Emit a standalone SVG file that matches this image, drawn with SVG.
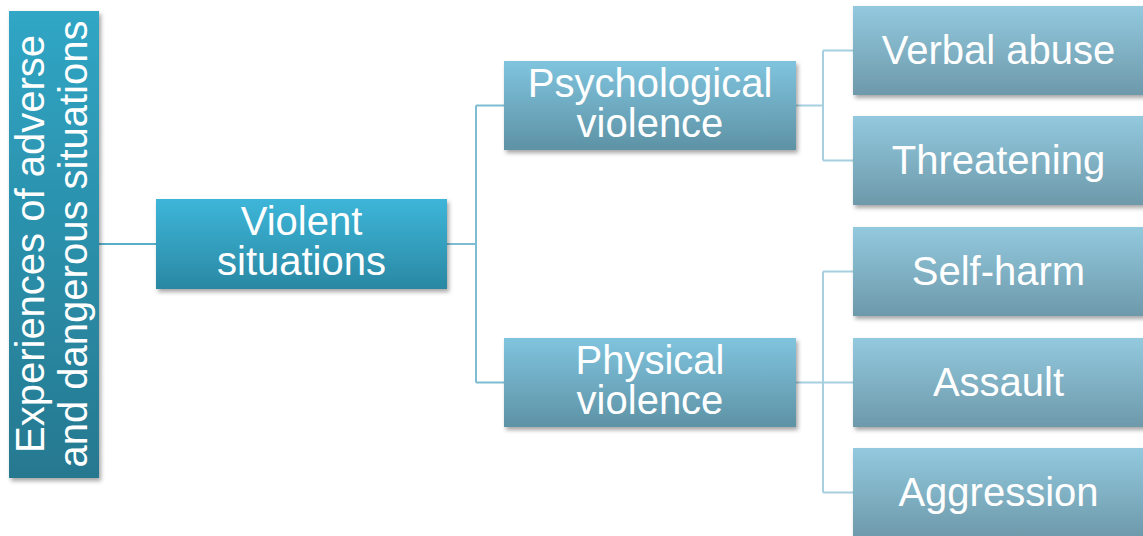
<svg xmlns="http://www.w3.org/2000/svg" width="1143" height="536" viewBox="0 0 1143 536">
  <defs>
    <linearGradient id="gRoot" x1="0" y1="0" x2="0" y2="1">
      <stop offset="0" stop-color="#30a6c5"/>
      <stop offset="1" stop-color="#26788f"/>
    </linearGradient>
    <linearGradient id="gL1" x1="0" y1="0" x2="0" y2="1">
      <stop offset="0" stop-color="#3db6d9"/>
      <stop offset="1" stop-color="#2a88a3"/>
    </linearGradient>
    <linearGradient id="gL2" x1="0" y1="0" x2="0" y2="1">
      <stop offset="0" stop-color="#7fc4de"/>
      <stop offset="1" stop-color="#5e92a5"/>
    </linearGradient>
    <linearGradient id="gL3" x1="0" y1="0" x2="0" y2="1">
      <stop offset="0" stop-color="#93c9de"/>
      <stop offset="1" stop-color="#6d99aa"/>
    </linearGradient>
    <filter id="shadow" x="-10%" y="-10%" width="125%" height="130%">
      <feDropShadow dx="2" dy="3" stdDeviation="2" flood-color="#000" flood-opacity="0.35"/>
    </filter>
  </defs>
  <style>
    .box { filter: url(#shadow); }
    .lbl { font-family: "Liberation Sans", Arial, sans-serif; font-size: 40px; fill: #ffffff; text-anchor: middle; }
    .c0 { stroke: #58aec7; stroke-width: 2; fill: none; }
    .c1 { stroke: #7dbdd3; stroke-width: 2; fill: none; }
    .c2 { stroke: #a6d0e0; stroke-width: 2; fill: none; }
  </style>

  <rect width="1143" height="536" fill="#ffffff"/>

  <!-- connectors -->
  <g id="connectors">
    <path class="c0" d="M99 244 H156"/>
    <path class="c1" d="M447 244 H476 M476 105.5 V382.5 M476 105.5 H504 M476 382.5 H504"/>
    <path class="c2" d="M796 105.5 H823 M823 50.5 V160.5 M823 50.5 H853 M823 160.5 H853"/>
    <path class="c2" d="M796 382.5 H823 M823 271.5 V492.5 M823 271.5 H853 M823 382.5 H853 M823 492.5 H853"/>
  </g>

  <!-- root -->
  <g id="root">
    <rect class="box" x="9" y="11" width="90" height="467" fill="url(#gRoot)"/>
    <text class="lbl" transform="translate(44 244) rotate(-90)" x="0" y="0">Experiences of adverse</text>
    <text class="lbl" transform="translate(87 244) rotate(-90)" x="0" y="0">and dangerous situations</text>
  </g>

  <!-- level 1 -->
  <g id="violent">
    <rect class="box" x="156" y="199" width="291" height="90" fill="url(#gL1)"/>
    <text class="lbl" x="301.5" y="235">Violent</text>
    <text class="lbl" x="301.5" y="275">situations</text>
  </g>

  <!-- level 2 -->
  <g id="psychological">
    <rect class="box" x="504" y="61" width="292" height="89" fill="url(#gL2)"/>
    <text class="lbl" x="650" y="97">Psychological</text>
    <text class="lbl" x="650" y="137">violence</text>
  </g>
  <g id="physical">
    <rect class="box" x="504" y="338" width="292" height="89" fill="url(#gL2)"/>
    <text class="lbl" x="650" y="374">Physical</text>
    <text class="lbl" x="650" y="414">violence</text>
  </g>

  <!-- level 3 -->
  <g id="verbal-abuse">
    <rect class="box" x="853" y="6" width="291" height="89" fill="url(#gL3)"/>
    <text class="lbl" x="998.5" y="64">Verbal abuse</text>
  </g>
  <g id="threatening">
    <rect class="box" x="853" y="116" width="291" height="89" fill="url(#gL3)"/>
    <text class="lbl" x="998.5" y="174">Threatening</text>
  </g>
  <g id="self-harm">
    <rect class="box" x="853" y="227" width="291" height="89" fill="url(#gL3)"/>
    <text class="lbl" x="998.5" y="285">Self-harm</text>
  </g>
  <g id="assault">
    <rect class="box" x="853" y="338" width="291" height="89" fill="url(#gL3)"/>
    <text class="lbl" x="998.5" y="396">Assault</text>
  </g>
  <g id="aggression">
    <rect class="box" x="853" y="448" width="291" height="90" fill="url(#gL3)"/>
    <text class="lbl" x="998.5" y="506">Aggression</text>
  </g>
</svg>
